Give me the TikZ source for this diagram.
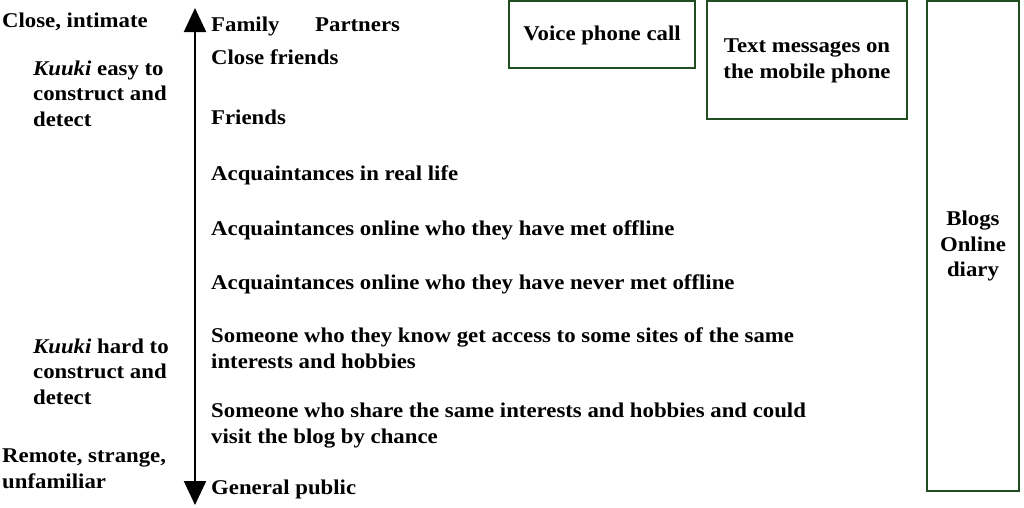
\documentclass[tikz,border=0pt]{standalone}
\usepackage{fontspec}
\setmainfont{Liberation Serif}[FakeStretch=1.085]
\usetikzlibrary{arrows.meta}
\definecolor{boxgreen}{RGB}{32,78,32}
\begin{document}
\begin{tikzpicture}[x=1pt,y=-1pt,
  txt/.style={anchor=base west,inner sep=0pt,align=left,font=\fontsize{21}{25.5}\selectfont\bfseries},
  ctxt/.style={inner sep=0pt,align=center,font=\fontsize{21}{25.5}\selectfont\bfseries},
  mediumbox/.style={draw=boxgreen,line width=1.8pt},
  axis/.style={line width=2.2pt,{Triangle[width=22pt,length=24pt]}-{Triangle[width=22pt,length=24pt]}}]
\useasboundingbox (0,0) rectangle (1024,507);
% axis
\coordinate (top) at (195,8);
\coordinate (bot) at (195,505);
\draw[axis] (bot) -- (top);
% left labels (multi-line nodes: base = last line)
\node[txt] (close) at (2,27) {Close, intimate};
\node[txt] (easy) at (33,126) {\textit{Kuuki} easy to\\construct and\\detect};
\node[txt] (hard) at (33,404) {\textit{Kuuki} hard to\\construct and\\detect};
\node[txt] (remote) at (2,488) {Remote, strange,\\unfamiliar};
% right labels
\node[txt] (family) at (211,31) {Family};
\node[txt] (partners) at (315,31) {Partners};
\node[txt] (closefr) at (211,64) {Close friends};
\node[txt] (friends) at (211,124) {Friends};
\node[txt] (acqreal) at (211,180) {Acquaintances in real life};
\node[txt] (acqmet) at (211,235) {Acquaintances online who they have met offline};
\node[txt] (acqnever) at (211,289) {Acquaintances online who they have never met offline};
\node[txt] (someknow) at (211,368) {Someone who they know get access to some sites of the same\\interests and hobbies};
\node[txt] (someshare) at (211,443) {Someone who share the same interests and hobbies and could\\visit the blog by chance};
\node[txt] (public) at (211,494) {General public};
% media boxes
\draw[mediumbox] (509,1) rectangle (695,68);
\node[ctxt] (voice) at (602,35) {Voice phone call};
\draw[mediumbox] (707,1) rectangle (907,119);
\node[ctxt] (sms) at (807,61) {Text messages on\\the mobile phone};
\draw[mediumbox] (927,1) rectangle (1019,491);
\node[ctxt] (blogs) at (973,246) {Blogs\\Online\\diary};
\end{tikzpicture}
\end{document}
